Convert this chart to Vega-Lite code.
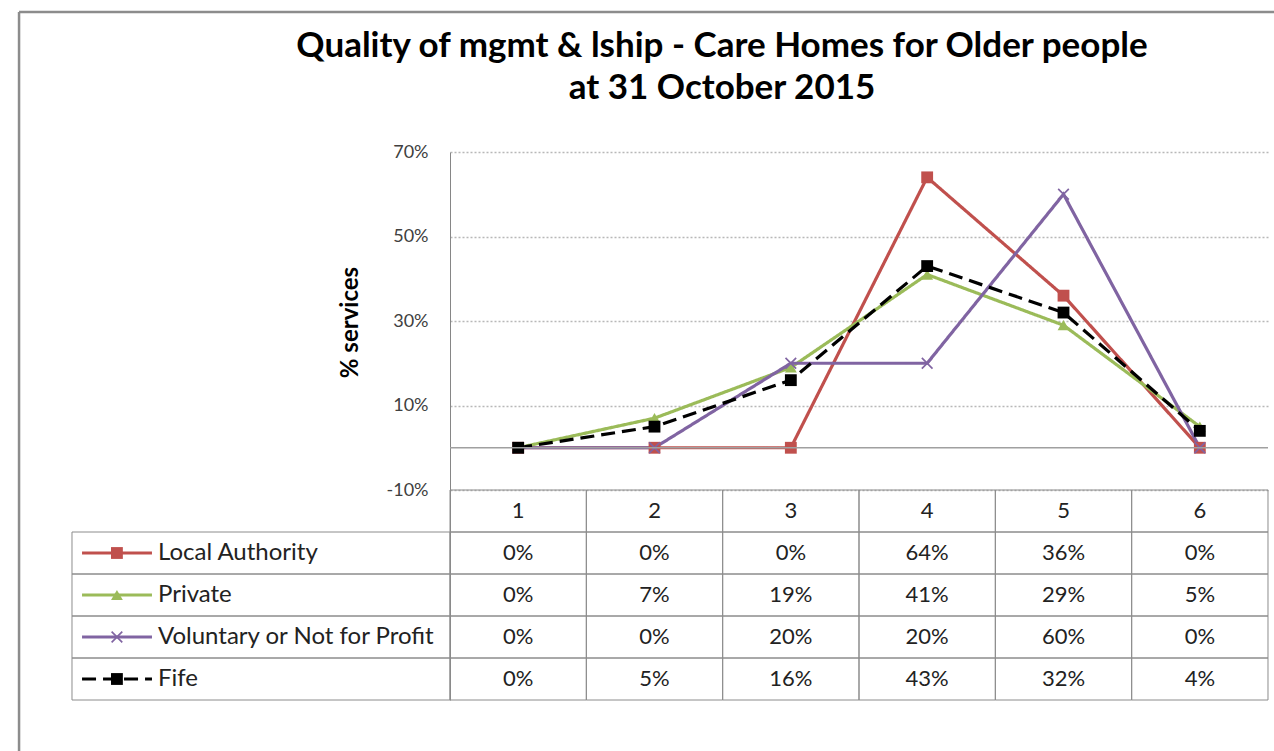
{
  "$schema": "https://vega.github.io/schema/vega-lite/v6.json",
  "autosize": "none",
  "width": 818,
  "height": 548,
  "padding": {"left": 450, "top": 152, "right": 6, "bottom": 51},
  "background": "white",
  "config": {"view": {"stroke": null}, "font": "Lato"},
  "title": {
    "text": ["Quality of mgmt & lship - Care Homes for Older people", "at 31 October 2015"],
    "font": "Lato", "fontSize": 35, "fontWeight": "bold", "color": "#000000",
    "anchor": "middle", "dx": -137, "offset": 0, "dy": 95, "lineHeight": 42
  },
  "data": {"values": [
      {"series": "Local Authority", "rating": 1, "pct": 0},
      {"series": "Local Authority", "rating": 2, "pct": 0},
      {"series": "Local Authority", "rating": 3, "pct": 0},
      {"series": "Local Authority", "rating": 4, "pct": 0.64},
      {"series": "Local Authority", "rating": 5, "pct": 0.36},
      {"series": "Local Authority", "rating": 6, "pct": 0},
      {"series": "Private", "rating": 1, "pct": 0},
      {"series": "Private", "rating": 2, "pct": 0.07},
      {"series": "Private", "rating": 3, "pct": 0.19},
      {"series": "Private", "rating": 4, "pct": 0.41},
      {"series": "Private", "rating": 5, "pct": 0.29},
      {"series": "Private", "rating": 6, "pct": 0.05},
      {"series": "Voluntary or Not for Profit", "rating": 1, "pct": 0},
      {"series": "Voluntary or Not for Profit", "rating": 2, "pct": 0},
      {"series": "Voluntary or Not for Profit", "rating": 3, "pct": 0.20},
      {"series": "Voluntary or Not for Profit", "rating": 4, "pct": 0.20},
      {"series": "Voluntary or Not for Profit", "rating": 5, "pct": 0.60},
      {"series": "Voluntary or Not for Profit", "rating": 6, "pct": 0},
      {"series": "Fife", "rating": 1, "pct": 0},
      {"series": "Fife", "rating": 2, "pct": 0.05},
      {"series": "Fife", "rating": 3, "pct": 0.16},
      {"series": "Fife", "rating": 4, "pct": 0.43},
      {"series": "Fife", "rating": 5, "pct": 0.32},
      {"series": "Fife", "rating": 6, "pct": 0.04}
  ]},
  "layer": [
    {
      "layer": [
        {
          "mark": {"type": "line", "strokeWidth": 3.2},
          "encoding": {
            "x": {"field": "rating", "type": "quantitative", "scale": {"domain": [0.5, 6.5], "nice": false, "zero": false}, "axis": null},
            "y": {
              "field": "pct", "type": "quantitative",
              "scale": {"domain": [-0.597, 0.7], "nice": false, "zero": false},
              "axis": {
                "values": [-0.1, 0.1, 0.3, 0.5, 0.7],
                "labelExpr": "round(datum.value*100) + '%'",
                "labelFont": "Lato", "labelFontSize": 18, "labelColor": "#404040", "labelPadding": 22,
                "ticks": false,
                "domainColor": "#868686", "domainWidth": 1,
                "grid": true, "gridColor": "#b8b8b8", "gridDash": [2, 2], "gridWidth": 1.3,
                "title": "% services", "titleFont": "Lato", "titleFontSize": 24, "titleFontWeight": "bold",
                "titleColor": "#000000", "titlePadding": 24, "titleY": 170
              }
            },
            "color": {
              "field": "series", "type": "nominal",
              "scale": {"domain": ["Local Authority", "Private", "Voluntary or Not for Profit", "Fife"], "range": ["#C0504D", "#9BBB59", "#8064A2", "#000000"]},
              "legend": null
            },
            "strokeDash": {
              "field": "series", "type": "nominal",
              "scale": {"domain": ["Local Authority", "Private", "Voluntary or Not for Profit", "Fife"], "range": [[1, 0], [1, 0], [1, 0], [14, 7]]},
              "legend": null
            }
          }
        },
        {
          "mark": {"type": "point", "filled": true, "opacity": 1, "size": 140},
          "encoding": {
            "x": {"field": "rating", "type": "quantitative"},
            "y": {"field": "pct", "type": "quantitative"},
            "color": {"field": "series", "type": "nominal", "legend": null},
            "shape": {
              "field": "series", "type": "nominal",
              "scale": {"domain": ["Local Authority", "Private", "Voluntary or Not for Profit", "Fife"], "range": ["square", "triangle-up", "M-1,-0.8L-0.8,-1L0,-0.2L0.8,-1L1,-0.8L0.2,0L1,0.8L0.8,1L0,0.2L-0.8,1L-1,0.8L-0.2,0Z", "square"]},
              "legend": null
            }
          }
        },
        {
          "transform": [{"aggregate": [{"op": "count", "as": "n"}]}],
          "mark": {"type": "rule", "color": "#a0a0a0", "strokeWidth": 1.5},
          "encoding": {"y": {"datum": 0, "type": "quantitative"}}
        },
        {
          "transform": [{"aggregate": [{"op": "count", "as": "n"}]}],
          "mark": {"type": "rule", "color": "#8c8c8c", "strokeWidth": 2.5},
          "encoding": {
            "x": {"datum": -2.661, "type": "quantitative"},
            "y": {"datum": 1.0314, "type": "quantitative"},
            "y2": {"datum": -0.9}
          }
        },
        {
          "transform": [{"aggregate": [{"op": "count", "as": "n"}]}],
          "mark": {"type": "rule", "color": "#8c8c8c", "strokeWidth": 2.5},
          "encoding": {
            "x": {"datum": -2.661, "type": "quantitative"},
            "x2": {"datum": 7.5},
            "y": {"datum": 1.0314, "type": "quantitative"}
          }
        }
      ]
    },
    {
      "layer": [
        {
          "mark": {"type": "rect", "width": 136.333, "fill": "white", "fillOpacity": 0, "stroke": "#8c8c8c", "strokeWidth": 1},
          "encoding": {
            "x": {"field": "rating", "type": "quantitative"},
            "y": {
              "field": "series", "type": "nominal",
              "scale": {"type": "band", "domain": ["Rating", "Local Authority", "Private", "Voluntary or Not for Profit", "Fife"], "range": [338, 548], "paddingInner": 0, "paddingOuter": 0},
              "axis": null
            }
          }
        },
        {
          "transform": [{"aggregate": [{"op": "count", "as": "n"}], "groupby": ["rating"]}],
          "mark": {"type": "rect", "width": 136.333, "fill": "white", "fillOpacity": 0, "stroke": "#8c8c8c", "strokeWidth": 1},
          "encoding": {
            "x": {"field": "rating", "type": "quantitative"},
            "y": {"datum": "Rating", "type": "nominal"}
          }
        },
        {
          "transform": [{"aggregate": [{"op": "count", "as": "n"}], "groupby": ["series"]}],
          "mark": {"type": "rect", "fill": "white", "fillOpacity": 0, "stroke": "#8c8c8c", "strokeWidth": 1},
          "encoding": {
            "x": {"datum": -2.2727, "type": "quantitative"},
            "x2": {"datum": 0.5},
            "y": {"field": "series", "type": "nominal"}
          }
        },
        {
          "mark": {"type": "text", "font": "Lato", "fontSize": 22, "color": "#222222", "align": "center", "baseline": "middle"},
          "encoding": {
            "x": {"field": "rating", "type": "quantitative"},
            "y": {"field": "series", "type": "nominal"},
            "text": {"field": "pct", "type": "quantitative", "format": ".0%"}
          }
        },
        {
          "transform": [{"aggregate": [{"op": "count", "as": "n"}], "groupby": ["rating"]}],
          "mark": {"type": "text", "font": "Lato", "fontSize": 22, "color": "#222222", "align": "center", "baseline": "middle"},
          "encoding": {
            "x": {"field": "rating", "type": "quantitative"},
            "y": {"datum": "Rating", "type": "nominal"},
            "text": {"field": "rating", "type": "nominal"}
          }
        },
        {
          "transform": [{"aggregate": [{"op": "count", "as": "n"}], "groupby": ["series"]}],
          "mark": {"type": "rule", "strokeWidth": 3},
          "encoding": {
            "x": {"datum": -2.199, "type": "quantitative"},
            "x2": {"datum": -1.686},
            "y": {"field": "series", "type": "nominal"},
            "color": {"field": "series", "type": "nominal", "legend": null},
            "strokeDash": {"field": "series", "type": "nominal", "legend": null}
          }
        },
        {
          "transform": [{"aggregate": [{"op": "count", "as": "n"}], "groupby": ["series"]}],
          "mark": {"type": "point", "filled": true, "opacity": 1, "size": 140},
          "encoding": {
            "x": {"datum": -1.943, "type": "quantitative"},
            "y": {"field": "series", "type": "nominal"},
            "color": {"field": "series", "type": "nominal", "legend": null},
            "shape": {"field": "series", "type": "nominal", "legend": null}
          }
        },
        {
          "transform": [{"aggregate": [{"op": "count", "as": "n"}], "groupby": ["series"]}],
          "mark": {"type": "text", "font": "Lato", "fontSize": 24, "color": "#222222", "align": "left", "baseline": "middle"},
          "encoding": {
            "x": {"datum": -1.642, "type": "quantitative"},
            "y": {"field": "series", "type": "nominal"},
            "text": {"field": "series", "type": "nominal"}
          }
        }
      ]
    }
  ],
  "resolve": {"scale": {"y": "independent"}}
}
